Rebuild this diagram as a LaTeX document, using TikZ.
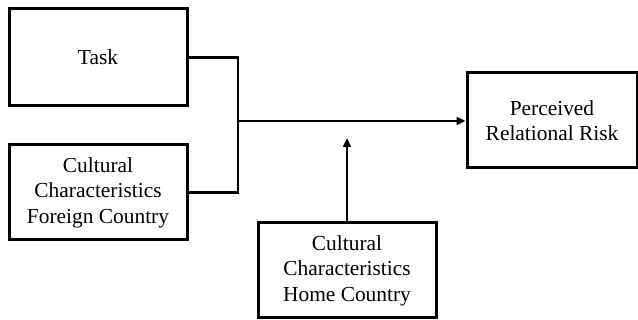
\documentclass[tikz,border=0pt]{standalone}
\usepackage{fontspec}
\setmainfont{Liberation Serif}
\usetikzlibrary{arrows.meta}
\begin{document}
\begin{tikzpicture}[x=1pt,y=-1pt,
  box/.style={draw,line width=3pt,rectangle,align=center,inner sep=0pt,
    font=\fontsize{21.4}{25.5}\selectfont},
  conn/.style={line width=2.8pt},
  arr/.style={line width=2.6pt,-{Triangle[length=9pt,width=8pt]}}]
\useasboundingbox (0,0) rectangle (638,320);
\node[box,minimum width=178pt,minimum height=97pt] (task) at (98,57.5) {Task};
\node[box,minimum width=178pt,minimum height=95pt] (fc) at (98,192.5) {Cultural\\Characteristics\\Foreign Country};
\node[box,minimum width=170pt,minimum height=95pt] (prr) at (552,120.5) {Perceived\\Relational Risk};
\node[box,minimum width=178pt,minimum height=95pt] (hc) at (347,270.5) {Cultural\\Characteristics\\Home Country};
\coordinate (j) at (238,121);
\coordinate (m) at (347,138);
\draw[conn] (task.east) -| (j);
\draw[conn] (fc.east) -| (j);
\draw[arr] (j) -- (prr.west |- j);
\draw[arr] (hc.north) -- (m);
\end{tikzpicture}
\end{document}
